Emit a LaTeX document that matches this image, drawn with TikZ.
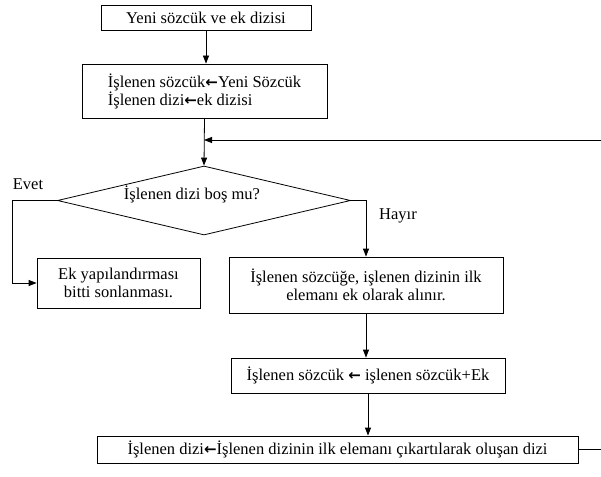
\documentclass[tikz,border=0pt]{standalone}
\usepackage{fontspec}
\setmainfont{Liberation Serif}
\newfontfamily\arrfont{DejaVu Sans}
\usetikzlibrary{arrows.meta,shapes.geometric}
\newcommand{\lar}{{\arrfont\bfseries\fontsize{15}{17}\selectfont ←}}
\tikzset{
  box/.style={draw, line width=0.8pt, inner sep=0pt, align=center},
  conn/.style={line width=0.8pt, -{Triangle[length=8pt,width=6pt]}},
  plain/.style={line width=0.8pt},
  lbl/.style={inner sep=0pt}
}
\begin{document}
\begin{tikzpicture}[x=1pt,y=-1pt,font=\fontsize{16.5}{18}\selectfont]
\useasboundingbox (0,0) rectangle (601,476);
\node[box, minimum width=210pt, minimum height=25pt] (b1) at (206,17.5) {Yeni sözcük ve ek dizisi};
\node[box, minimum width=245pt, minimum height=54pt, align=left] (b2) at (204.5,91) {İşlenen sözcük\lar Yeni Sözcük\\İşlenen dizi\lar ek dizisi};
\node[draw, line width=0.8pt, diamond, aspect=4.25, inner sep=0pt, minimum width=293pt, minimum height=69pt] (dec) at (204,200.5) {};
\node[lbl] (dect) at (192,194) {İşlenen dizi boş mu?};
\node[box, minimum width=163pt, minimum height=50pt] (b3) at (118.5,283) {Ek yapılandırması\\bitti sonlanması.};
\node[box, minimum width=274pt, minimum height=56pt] (b4) at (366,285) {İşlenen sözcüğe, işlenen dizinin ilk\\elemanı ek olarak alınır.};
\node[box, minimum width=274pt, minimum height=35pt] (b5) at (368,375.5) {İşlenen sözcük \lar\ işlenen sözcük+Ek};
\node[box, minimum width=481pt, minimum height=27pt] (b6) at (337.5,449.5) {İşlenen dizi\lar İşlenen dizinin ilk elemanı çıkartılarak oluşan dizi};
\node[lbl] (evet) at (28,184) {Evet};
\node[lbl] (hayir) at (398,216) {Hayır};
\coordinate (rin) at (602.5,140);
\coordinate (yc) at (12.5,0);
% connectors
\draw[conn] (b1.south) -- (b1.south|-b2.north);
\draw[conn] (b2.south) -- (dec.north);
\draw[conn] (rin) -- (rin -| dec.north);
\draw[plain] (b6.east) -| (rin);
\draw[conn] (dec.west) -- (dec.west -| yc) -- (yc |- b3.west) -- (b3.west);
\draw[conn] (dec.east) -| (b4.north);
\draw[conn] (b4.south) -- (b4.south|-b5.north);
\draw[conn] (b5.south) -- (b5.south|-b6.north);
\end{tikzpicture}
\end{document}
